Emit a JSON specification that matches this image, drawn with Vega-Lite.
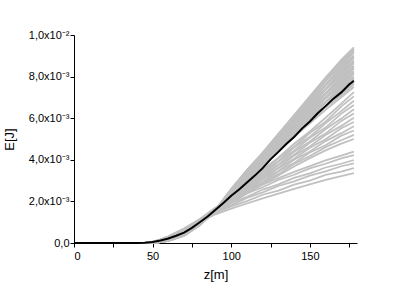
{
"$schema": "https://vega.github.io/schema/vega-lite/v6.json",
"width": 283, "height": 208,
"autosize": {"type": "none"},
"padding": {"left": 74, "top": 35, "right": 58, "bottom": 49},
"background": "white",
"config": {"view": {"stroke": null}, "font": "Liberation Sans"},
"datasets": {
"gray": [
{"s":1,"z":0,"e":0},{"s":1,"z":45,"e":0},{"s":1,"z":50,"e":0.02e-3},{"s":1,"z":55,"e":0.06e-3},{"s":1,"z":60,"e":0.14e-3},{"s":1,"z":70,"e":0.42e-3},{"s":1,"z":80,"e":0.92e-3},{"s":1,"z":90,"e":1.55e-3},{"s":1,"z":100,"e":2.30e-3},{"s":1,"z":110,"e":3.00e-3},{"s":1,"z":120,"e":3.70e-3},{"s":1,"z":130,"e":4.40e-3},{"s":1,"z":140,"e":5.10e-3},{"s":1,"z":150,"e":5.75e-3},{"s":1,"z":160,"e":6.40e-3},{"s":1,"z":170,"e":7.00e-3},{"s":1,"z":178,"e":7.50e-3},
{"s":2,"z":0,"e":0},{"s":2,"z":45,"e":0},{"s":2,"z":50,"e":0.02e-3},{"s":2,"z":55,"e":0.06e-3},{"s":2,"z":60,"e":0.14e-3},{"s":2,"z":70,"e":0.42e-3},{"s":2,"z":80,"e":0.92e-3},{"s":2,"z":90,"e":1.55e-3},{"s":2,"z":100,"e":2.35e-3},{"s":2,"z":110,"e":3.01e-3},{"s":2,"z":120,"e":3.76e-3},{"s":2,"z":130,"e":4.44e-3},{"s":2,"z":140,"e":5.20e-3},{"s":2,"z":150,"e":5.82e-3},{"s":2,"z":160,"e":6.53e-3},{"s":2,"z":170,"e":7.10e-3},{"s":2,"z":178,"e":7.63e-3},
{"s":3,"z":0,"e":0},{"s":3,"z":45,"e":0},{"s":3,"z":50,"e":0.02e-3},{"s":3,"z":55,"e":0.06e-3},{"s":3,"z":60,"e":0.13e-3},{"s":3,"z":70,"e":0.41e-3},{"s":3,"z":80,"e":0.91e-3},{"s":3,"z":90,"e":1.56e-3},{"s":3,"z":100,"e":2.31e-3},{"s":3,"z":110,"e":3.09e-3},{"s":3,"z":120,"e":3.77e-3},{"s":3,"z":130,"e":4.53e-3},{"s":3,"z":140,"e":5.22e-3},{"s":3,"z":150,"e":5.95e-3},{"s":3,"z":160,"e":6.58e-3},{"s":3,"z":170,"e":7.27e-3},{"s":3,"z":178,"e":7.75e-3},
{"s":4,"z":0,"e":0},{"s":4,"z":45,"e":0},{"s":4,"z":50,"e":0.02e-3},{"s":4,"z":55,"e":0.05e-3},{"s":4,"z":60,"e":0.13e-3},{"s":4,"z":70,"e":0.41e-3},{"s":4,"z":80,"e":0.91e-3},{"s":4,"z":90,"e":1.56e-3},{"s":4,"z":100,"e":2.39e-3},{"s":4,"z":110,"e":3.08e-3},{"s":4,"z":120,"e":3.86e-3},{"s":4,"z":130,"e":4.55e-3},{"s":4,"z":140,"e":5.34e-3},{"s":4,"z":150,"e":5.99e-3},{"s":4,"z":160,"e":6.74e-3},{"s":4,"z":170,"e":7.34e-3},{"s":4,"z":178,"e":7.88e-3},
{"s":5,"z":0,"e":0},{"s":5,"z":45,"e":0},{"s":5,"z":50,"e":0.02e-3},{"s":5,"z":55,"e":0.05e-3},{"s":5,"z":60,"e":0.13e-3},{"s":5,"z":70,"e":0.40e-3},{"s":5,"z":80,"e":0.90e-3},{"s":5,"z":90,"e":1.56e-3},{"s":5,"z":100,"e":2.36e-3},{"s":5,"z":110,"e":3.16e-3},{"s":5,"z":120,"e":3.85e-3},{"s":5,"z":130,"e":4.66e-3},{"s":5,"z":140,"e":5.36e-3},{"s":5,"z":150,"e":6.13e-3},{"s":5,"z":160,"e":6.79e-3},{"s":5,"z":170,"e":7.51e-3},{"s":5,"z":178,"e":8.01e-3},
{"s":6,"z":0,"e":0},{"s":6,"z":45,"e":0},{"s":6,"z":50,"e":0.02e-3},{"s":6,"z":55,"e":0.05e-3},{"s":6,"z":60,"e":0.13e-3},{"s":6,"z":70,"e":0.40e-3},{"s":6,"z":80,"e":0.90e-3},{"s":6,"z":90,"e":1.57e-3},{"s":6,"z":100,"e":2.42e-3},{"s":6,"z":110,"e":3.15e-3},{"s":6,"z":120,"e":3.95e-3},{"s":6,"z":130,"e":4.66e-3},{"s":6,"z":140,"e":5.48e-3},{"s":6,"z":150,"e":6.16e-3},{"s":6,"z":160,"e":6.95e-3},{"s":6,"z":170,"e":7.58e-3},{"s":6,"z":178,"e":8.13e-3},
{"s":7,"z":0,"e":0},{"s":7,"z":45,"e":0},{"s":7,"z":50,"e":0.02e-3},{"s":7,"z":55,"e":0.05e-3},{"s":7,"z":60,"e":0.12e-3},{"s":7,"z":70,"e":0.39e-3},{"s":7,"z":80,"e":0.89e-3},{"s":7,"z":90,"e":1.57e-3},{"s":7,"z":100,"e":2.40e-3},{"s":7,"z":110,"e":3.23e-3},{"s":7,"z":120,"e":3.94e-3},{"s":7,"z":130,"e":4.77e-3},{"s":7,"z":140,"e":5.50e-3},{"s":7,"z":150,"e":6.30e-3},{"s":7,"z":160,"e":7.00e-3},{"s":7,"z":170,"e":7.75e-3},{"s":7,"z":178,"e":8.26e-3},
{"s":8,"z":0,"e":0},{"s":8,"z":45,"e":0},{"s":8,"z":50,"e":0.01e-3},{"s":8,"z":55,"e":0.05e-3},{"s":8,"z":60,"e":0.12e-3},{"s":8,"z":70,"e":0.39e-3},{"s":8,"z":80,"e":0.89e-3},{"s":8,"z":90,"e":1.57e-3},{"s":8,"z":100,"e":2.46e-3},{"s":8,"z":110,"e":3.21e-3},{"s":8,"z":120,"e":4.03e-3},{"s":8,"z":130,"e":4.78e-3},{"s":8,"z":140,"e":5.62e-3},{"s":8,"z":150,"e":6.34e-3},{"s":8,"z":160,"e":7.15e-3},{"s":8,"z":170,"e":7.82e-3},{"s":8,"z":178,"e":8.39e-3},
{"s":9,"z":0,"e":0},{"s":9,"z":45,"e":0},{"s":9,"z":50,"e":0.01e-3},{"s":9,"z":55,"e":0.05e-3},{"s":9,"z":60,"e":0.12e-3},{"s":9,"z":70,"e":0.38e-3},{"s":9,"z":80,"e":0.88e-3},{"s":9,"z":90,"e":1.58e-3},{"s":9,"z":100,"e":2.44e-3},{"s":9,"z":110,"e":3.30e-3},{"s":9,"z":120,"e":4.03e-3},{"s":9,"z":130,"e":4.88e-3},{"s":9,"z":140,"e":5.64e-3},{"s":9,"z":150,"e":6.47e-3},{"s":9,"z":160,"e":7.21e-3},{"s":9,"z":170,"e":7.99e-3},{"s":9,"z":178,"e":8.51e-3},
{"s":10,"z":0,"e":0},{"s":10,"z":45,"e":0},{"s":10,"z":50,"e":0.01e-3},{"s":10,"z":55,"e":0.05e-3},{"s":10,"z":60,"e":0.12e-3},{"s":10,"z":70,"e":0.38e-3},{"s":10,"z":80,"e":0.88e-3},{"s":10,"z":90,"e":1.58e-3},{"s":10,"z":100,"e":2.50e-3},{"s":10,"z":110,"e":3.28e-3},{"s":10,"z":120,"e":4.12e-3},{"s":10,"z":130,"e":4.89e-3},{"s":10,"z":140,"e":5.76e-3},{"s":10,"z":150,"e":6.51e-3},{"s":10,"z":160,"e":7.36e-3},{"s":10,"z":170,"e":8.06e-3},{"s":10,"z":178,"e":8.64e-3},
{"s":11,"z":0,"e":0},{"s":11,"z":45,"e":0},{"s":11,"z":50,"e":0.01e-3},{"s":11,"z":55,"e":0.05e-3},{"s":11,"z":60,"e":0.11e-3},{"s":11,"z":70,"e":0.37e-3},{"s":11,"z":80,"e":0.87e-3},{"s":11,"z":90,"e":1.58e-3},{"s":11,"z":100,"e":2.48e-3},{"s":11,"z":110,"e":3.36e-3},{"s":11,"z":120,"e":4.11e-3},{"s":11,"z":130,"e":5.00e-3},{"s":11,"z":140,"e":5.78e-3},{"s":11,"z":150,"e":6.65e-3},{"s":11,"z":160,"e":7.41e-3},{"s":11,"z":170,"e":8.23e-3},{"s":11,"z":178,"e":8.77e-3},
{"s":12,"z":0,"e":0},{"s":12,"z":45,"e":0},{"s":12,"z":50,"e":0.01e-3},{"s":12,"z":55,"e":0.04e-3},{"s":12,"z":60,"e":0.11e-3},{"s":12,"z":70,"e":0.37e-3},{"s":12,"z":80,"e":0.87e-3},{"s":12,"z":90,"e":1.58e-3},{"s":12,"z":100,"e":2.54e-3},{"s":12,"z":110,"e":3.35e-3},{"s":12,"z":120,"e":4.21e-3},{"s":12,"z":130,"e":5.00e-3},{"s":12,"z":140,"e":5.90e-3},{"s":12,"z":150,"e":6.68e-3},{"s":12,"z":160,"e":7.57e-3},{"s":12,"z":170,"e":8.30e-3},{"s":12,"z":178,"e":8.89e-3},
{"s":13,"z":0,"e":0},{"s":13,"z":45,"e":0},{"s":13,"z":50,"e":0.01e-3},{"s":13,"z":55,"e":0.04e-3},{"s":13,"z":60,"e":0.11e-3},{"s":13,"z":70,"e":0.36e-3},{"s":13,"z":80,"e":0.86e-3},{"s":13,"z":90,"e":1.59e-3},{"s":13,"z":100,"e":2.52e-3},{"s":13,"z":110,"e":3.43e-3},{"s":13,"z":120,"e":4.20e-3},{"s":13,"z":130,"e":5.11e-3},{"s":13,"z":140,"e":5.92e-3},{"s":13,"z":150,"e":6.82e-3},{"s":13,"z":160,"e":7.62e-3},{"s":13,"z":170,"e":8.47e-3},{"s":13,"z":178,"e":9.02e-3},
{"s":14,"z":0,"e":0},{"s":14,"z":45,"e":0},{"s":14,"z":50,"e":0.01e-3},{"s":14,"z":55,"e":0.04e-3},{"s":14,"z":60,"e":0.11e-3},{"s":14,"z":70,"e":0.36e-3},{"s":14,"z":80,"e":0.86e-3},{"s":14,"z":90,"e":1.59e-3},{"s":14,"z":100,"e":2.58e-3},{"s":14,"z":110,"e":3.41e-3},{"s":14,"z":120,"e":4.29e-3},{"s":14,"z":130,"e":5.12e-3},{"s":14,"z":140,"e":6.04e-3},{"s":14,"z":150,"e":6.86e-3},{"s":14,"z":160,"e":7.77e-3},{"s":14,"z":170,"e":8.54e-3},{"s":14,"z":178,"e":9.15e-3},
{"s":15,"z":0,"e":0},{"s":15,"z":45,"e":0},{"s":15,"z":50,"e":0.01e-3},{"s":15,"z":55,"e":0.04e-3},{"s":15,"z":60,"e":0.10e-3},{"s":15,"z":70,"e":0.35e-3},{"s":15,"z":80,"e":0.85e-3},{"s":15,"z":90,"e":1.60e-3},{"s":15,"z":100,"e":2.56e-3},{"s":15,"z":110,"e":3.50e-3},{"s":15,"z":120,"e":4.29e-3},{"s":15,"z":130,"e":5.22e-3},{"s":15,"z":140,"e":6.06e-3},{"s":15,"z":150,"e":6.99e-3},{"s":15,"z":160,"e":7.83e-3},{"s":15,"z":170,"e":8.71e-3},{"s":15,"z":178,"e":9.27e-3},
{"s":16,"z":0,"e":0},{"s":16,"z":45,"e":0},{"s":16,"z":50,"e":0.01e-3},{"s":16,"z":55,"e":0.04e-3},{"s":16,"z":60,"e":0.10e-3},{"s":16,"z":70,"e":0.35e-3},{"s":16,"z":80,"e":0.85e-3},{"s":16,"z":90,"e":1.60e-3},{"s":16,"z":100,"e":2.60e-3},{"s":16,"z":110,"e":3.50e-3},{"s":16,"z":120,"e":4.35e-3},{"s":16,"z":130,"e":5.25e-3},{"s":16,"z":140,"e":6.15e-3},{"s":16,"z":150,"e":7.05e-3},{"s":16,"z":160,"e":7.95e-3},{"s":16,"z":170,"e":8.80e-3},{"s":16,"z":178,"e":9.40e-3},
{"s":17,"z":0,"e":0},{"s":17,"z":45,"e":0},{"s":17,"z":50,"e":0.04e-3},{"s":17,"z":55,"e":0.12e-3},{"s":17,"z":60,"e":0.24e-3},{"s":17,"z":70,"e":0.58e-3},{"s":17,"z":80,"e":1.00e-3},{"s":17,"z":90,"e":1.45e-3},{"s":17,"z":100,"e":1.92e-3},{"s":17,"z":110,"e":2.38e-3},{"s":17,"z":120,"e":2.82e-3},{"s":17,"z":130,"e":3.25e-3},{"s":17,"z":140,"e":3.68e-3},{"s":17,"z":150,"e":4.08e-3},{"s":17,"z":160,"e":4.45e-3},{"s":17,"z":170,"e":4.78e-3},{"s":17,"z":178,"e":5.00e-3},
{"s":18,"z":0,"e":0},{"s":18,"z":45,"e":0},{"s":18,"z":50,"e":0.04e-3},{"s":18,"z":55,"e":0.12e-3},{"s":18,"z":60,"e":0.23e-3},{"s":18,"z":70,"e":0.57e-3},{"s":18,"z":80,"e":0.99e-3},{"s":18,"z":90,"e":1.46e-3},{"s":18,"z":100,"e":1.97e-3},{"s":18,"z":110,"e":2.40e-3},{"s":18,"z":120,"e":2.90e-3},{"s":18,"z":130,"e":3.31e-3},{"s":18,"z":140,"e":3.80e-3},{"s":18,"z":150,"e":4.18e-3},{"s":18,"z":160,"e":4.61e-3},{"s":18,"z":170,"e":4.94e-3},{"s":18,"z":178,"e":5.20e-3},
{"s":19,"z":0,"e":0},{"s":19,"z":45,"e":0},{"s":19,"z":50,"e":0.04e-3},{"s":19,"z":55,"e":0.11e-3},{"s":19,"z":60,"e":0.23e-3},{"s":19,"z":70,"e":0.56e-3},{"s":19,"z":80,"e":0.99e-3},{"s":19,"z":90,"e":1.46e-3},{"s":19,"z":100,"e":1.95e-3},{"s":19,"z":110,"e":2.49e-3},{"s":19,"z":120,"e":2.92e-3},{"s":19,"z":130,"e":3.44e-3},{"s":19,"z":140,"e":3.85e-3},{"s":19,"z":150,"e":4.35e-3},{"s":19,"z":160,"e":4.70e-3},{"s":19,"z":170,"e":5.16e-3},{"s":19,"z":178,"e":5.41e-3},
{"s":20,"z":0,"e":0},{"s":20,"z":45,"e":0},{"s":20,"z":50,"e":0.04e-3},{"s":20,"z":55,"e":0.11e-3},{"s":20,"z":60,"e":0.22e-3},{"s":20,"z":70,"e":0.55e-3},{"s":20,"z":80,"e":0.98e-3},{"s":20,"z":90,"e":1.47e-3},{"s":20,"z":100,"e":2.02e-3},{"s":20,"z":110,"e":2.48e-3},{"s":20,"z":120,"e":3.04e-3},{"s":20,"z":130,"e":3.46e-3},{"s":20,"z":140,"e":4.00e-3},{"s":20,"z":150,"e":4.40e-3},{"s":20,"z":160,"e":4.90e-3},{"s":20,"z":170,"e":5.28e-3},{"s":20,"z":178,"e":5.61e-3},
{"s":21,"z":0,"e":0},{"s":21,"z":45,"e":0},{"s":21,"z":50,"e":0.04e-3},{"s":21,"z":55,"e":0.11e-3},{"s":21,"z":60,"e":0.22e-3},{"s":21,"z":70,"e":0.54e-3},{"s":21,"z":80,"e":0.98e-3},{"s":21,"z":90,"e":1.48e-3},{"s":21,"z":100,"e":2.00e-3},{"s":21,"z":110,"e":2.58e-3},{"s":21,"z":120,"e":3.05e-3},{"s":21,"z":130,"e":3.60e-3},{"s":21,"z":140,"e":4.05e-3},{"s":21,"z":150,"e":4.58e-3},{"s":21,"z":160,"e":4.99e-3},{"s":21,"z":170,"e":5.52e-3},{"s":21,"z":178,"e":5.82e-3},
{"s":22,"z":0,"e":0},{"s":22,"z":45,"e":0},{"s":22,"z":50,"e":0.03e-3},{"s":22,"z":55,"e":0.10e-3},{"s":22,"z":60,"e":0.21e-3},{"s":22,"z":70,"e":0.53e-3},{"s":22,"z":80,"e":0.97e-3},{"s":22,"z":90,"e":1.48e-3},{"s":22,"z":100,"e":2.08e-3},{"s":22,"z":110,"e":2.57e-3},{"s":22,"z":120,"e":3.16e-3},{"s":22,"z":130,"e":3.62e-3},{"s":22,"z":140,"e":4.20e-3},{"s":22,"z":150,"e":4.64e-3},{"s":22,"z":160,"e":5.19e-3},{"s":22,"z":170,"e":5.63e-3},{"s":22,"z":178,"e":6.02e-3},
{"s":23,"z":0,"e":0},{"s":23,"z":45,"e":0},{"s":23,"z":50,"e":0.03e-3},{"s":23,"z":55,"e":0.10e-3},{"s":23,"z":60,"e":0.20e-3},{"s":23,"z":70,"e":0.52e-3},{"s":23,"z":80,"e":0.97e-3},{"s":23,"z":90,"e":1.49e-3},{"s":23,"z":100,"e":2.05e-3},{"s":23,"z":110,"e":2.67e-3},{"s":23,"z":120,"e":3.17e-3},{"s":23,"z":130,"e":3.75e-3},{"s":23,"z":140,"e":4.24e-3},{"s":23,"z":150,"e":4.82e-3},{"s":23,"z":160,"e":5.26e-3},{"s":23,"z":170,"e":5.87e-3},{"s":23,"z":178,"e":6.23e-3},
{"s":24,"z":0,"e":0},{"s":24,"z":45,"e":0},{"s":24,"z":50,"e":0.03e-3},{"s":24,"z":55,"e":0.10e-3},{"s":24,"z":60,"e":0.20e-3},{"s":24,"z":70,"e":0.51e-3},{"s":24,"z":80,"e":0.96e-3},{"s":24,"z":90,"e":1.49e-3},{"s":24,"z":100,"e":2.13e-3},{"s":24,"z":110,"e":2.65e-3},{"s":24,"z":120,"e":3.28e-3},{"s":24,"z":130,"e":3.77e-3},{"s":24,"z":140,"e":4.39e-3},{"s":24,"z":150,"e":4.88e-3},{"s":24,"z":160,"e":5.47e-3},{"s":24,"z":170,"e":5.98e-3},{"s":24,"z":178,"e":6.43e-3},
{"s":25,"z":0,"e":0},{"s":25,"z":45,"e":0},{"s":25,"z":50,"e":0.03e-3},{"s":25,"z":55,"e":0.09e-3},{"s":25,"z":60,"e":0.19e-3},{"s":25,"z":70,"e":0.50e-3},{"s":25,"z":80,"e":0.96e-3},{"s":25,"z":90,"e":1.50e-3},{"s":25,"z":100,"e":2.10e-3},{"s":25,"z":110,"e":2.75e-3},{"s":25,"z":120,"e":3.29e-3},{"s":25,"z":130,"e":3.91e-3},{"s":25,"z":140,"e":4.44e-3},{"s":25,"z":150,"e":5.06e-3},{"s":25,"z":160,"e":5.55e-3},{"s":25,"z":170,"e":6.22e-3},{"s":25,"z":178,"e":6.64e-3},
{"s":26,"z":0,"e":0},{"s":26,"z":45,"e":0},{"s":26,"z":50,"e":0.03e-3},{"s":26,"z":55,"e":0.09e-3},{"s":26,"z":60,"e":0.18e-3},{"s":26,"z":70,"e":0.49e-3},{"s":26,"z":80,"e":0.95e-3},{"s":26,"z":90,"e":1.51e-3},{"s":26,"z":100,"e":2.18e-3},{"s":26,"z":110,"e":2.73e-3},{"s":26,"z":120,"e":3.41e-3},{"s":26,"z":130,"e":3.93e-3},{"s":26,"z":140,"e":4.59e-3},{"s":26,"z":150,"e":5.11e-3},{"s":26,"z":160,"e":5.75e-3},{"s":26,"z":170,"e":6.34e-3},{"s":26,"z":178,"e":6.84e-3},
{"s":27,"z":0,"e":0},{"s":27,"z":45,"e":0},{"s":27,"z":50,"e":0.03e-3},{"s":27,"z":55,"e":0.08e-3},{"s":27,"z":60,"e":0.18e-3},{"s":27,"z":70,"e":0.48e-3},{"s":27,"z":80,"e":0.95e-3},{"s":27,"z":90,"e":1.51e-3},{"s":27,"z":100,"e":2.15e-3},{"s":27,"z":110,"e":2.84e-3},{"s":27,"z":120,"e":3.42e-3},{"s":27,"z":130,"e":4.07e-3},{"s":27,"z":140,"e":4.63e-3},{"s":27,"z":150,"e":5.29e-3},{"s":27,"z":160,"e":5.83e-3},{"s":27,"z":170,"e":6.57e-3},{"s":27,"z":178,"e":7.05e-3},
{"s":28,"z":0,"e":0},{"s":28,"z":45,"e":0},{"s":28,"z":50,"e":0.03e-3},{"s":28,"z":55,"e":0.08e-3},{"s":28,"z":60,"e":0.17e-3},{"s":28,"z":70,"e":0.47e-3},{"s":28,"z":80,"e":0.94e-3},{"s":28,"z":90,"e":1.52e-3},{"s":28,"z":100,"e":2.22e-3},{"s":28,"z":110,"e":2.83e-3},{"s":28,"z":120,"e":3.52e-3},{"s":28,"z":130,"e":4.10e-3},{"s":28,"z":140,"e":4.77e-3},{"s":28,"z":150,"e":5.36e-3},{"s":28,"z":160,"e":6.02e-3},{"s":28,"z":170,"e":6.70e-3},{"s":28,"z":178,"e":7.25e-3},
{"s":29,"z":0,"e":0},{"s":29,"z":45,"e":0},{"s":29,"z":50,"e":0.05e-3},{"s":29,"z":55,"e":0.15e-3},{"s":29,"z":60,"e":0.28e-3},{"s":29,"z":70,"e":0.62e-3},{"s":29,"z":80,"e":1.00e-3},{"s":29,"z":90,"e":1.38e-3},{"s":29,"z":100,"e":1.65e-3},{"s":29,"z":110,"e":1.90e-3},{"s":29,"z":120,"e":2.15e-3},{"s":29,"z":130,"e":2.37e-3},{"s":29,"z":140,"e":2.60e-3},{"s":29,"z":150,"e":2.82e-3},{"s":29,"z":160,"e":3.03e-3},{"s":29,"z":170,"e":3.22e-3},{"s":29,"z":178,"e":3.36e-3},
{"s":30,"z":0,"e":0},{"s":30,"z":45,"e":0},{"s":30,"z":50,"e":0.05e-3},{"s":30,"z":55,"e":0.15e-3},{"s":30,"z":60,"e":0.29e-3},{"s":30,"z":70,"e":0.64e-3},{"s":30,"z":80,"e":1.03e-3},{"s":30,"z":90,"e":1.45e-3},{"s":30,"z":100,"e":1.76e-3},{"s":30,"z":110,"e":2.01e-3},{"s":30,"z":120,"e":2.32e-3},{"s":30,"z":130,"e":2.52e-3},{"s":30,"z":140,"e":2.81e-3},{"s":30,"z":150,"e":3.00e-3},{"s":30,"z":160,"e":3.27e-3},{"s":30,"z":170,"e":3.43e-3},{"s":30,"z":178,"e":3.60e-3},
{"s":31,"z":0,"e":0},{"s":31,"z":45,"e":0},{"s":31,"z":50,"e":0.05e-3},{"s":31,"z":55,"e":0.16e-3},{"s":31,"z":60,"e":0.30e-3},{"s":31,"z":70,"e":0.66e-3},{"s":31,"z":80,"e":1.07e-3},{"s":31,"z":90,"e":1.53e-3},{"s":31,"z":100,"e":1.81e-3},{"s":31,"z":110,"e":2.17e-3},{"s":31,"z":120,"e":2.43e-3},{"s":31,"z":130,"e":2.74e-3},{"s":31,"z":140,"e":2.96e-3},{"s":31,"z":150,"e":3.24e-3},{"s":31,"z":160,"e":3.44e-3},{"s":31,"z":170,"e":3.69e-3},{"s":31,"z":178,"e":3.83e-3},
{"s":32,"z":0,"e":0},{"s":32,"z":45,"e":0},{"s":32,"z":50,"e":0.06e-3},{"s":32,"z":55,"e":0.16e-3},{"s":32,"z":60,"e":0.30e-3},{"s":32,"z":70,"e":0.67e-3},{"s":32,"z":80,"e":1.09e-3},{"s":32,"z":90,"e":1.58e-3},{"s":32,"z":100,"e":1.92e-3},{"s":32,"z":110,"e":2.22e-3},{"s":32,"z":120,"e":2.57e-3},{"s":32,"z":130,"e":2.82e-3},{"s":32,"z":140,"e":3.13e-3},{"s":32,"z":150,"e":3.35e-3},{"s":32,"z":160,"e":3.63e-3},{"s":32,"z":170,"e":3.81e-3},{"s":32,"z":178,"e":3.99e-3},
{"s":33,"z":0,"e":0},{"s":33,"z":45,"e":0},{"s":33,"z":50,"e":0.06e-3},{"s":33,"z":55,"e":0.17e-3},{"s":33,"z":60,"e":0.31e-3},{"s":33,"z":70,"e":0.69e-3},{"s":33,"z":80,"e":1.13e-3},{"s":33,"z":90,"e":1.65e-3},{"s":33,"z":100,"e":1.97e-3},{"s":33,"z":110,"e":2.39e-3},{"s":33,"z":120,"e":2.68e-3},{"s":33,"z":130,"e":3.03e-3},{"s":33,"z":140,"e":3.28e-3},{"s":33,"z":150,"e":3.59e-3},{"s":33,"z":160,"e":3.81e-3},{"s":33,"z":170,"e":4.07e-3},{"s":33,"z":178,"e":4.23e-3},
{"s":34,"z":0,"e":0},{"s":34,"z":45,"e":0},{"s":34,"z":50,"e":0.06e-3},{"s":34,"z":55,"e":0.17e-3},{"s":34,"z":60,"e":0.32e-3},{"s":34,"z":70,"e":0.70e-3},{"s":34,"z":80,"e":1.15e-3},{"s":34,"z":90,"e":1.70e-3},{"s":34,"z":100,"e":2.05e-3},{"s":34,"z":110,"e":2.45e-3},{"s":34,"z":120,"e":2.80e-3},{"s":34,"z":130,"e":3.12e-3},{"s":34,"z":140,"e":3.42e-3},{"s":34,"z":150,"e":3.70e-3},{"s":34,"z":160,"e":3.97e-3},{"s":34,"z":170,"e":4.20e-3},{"s":34,"z":178,"e":4.39e-3},
{"s":35,"z":0,"e":0},{"s":35,"z":45,"e":0},{"s":35,"z":50,"e":0.02e-3},{"s":35,"z":55,"e":0.06e-3},{"s":35,"z":60,"e":0.14e-3},{"s":35,"z":70,"e":0.42e-3},{"s":35,"z":80,"e":0.92e-3},{"s":35,"z":90,"e":1.55e-3},{"s":35,"z":100,"e":2.33e-3},{"s":35,"z":110,"e":3.05e-3},{"s":35,"z":120,"e":3.77e-3},{"s":35,"z":130,"e":4.49e-3},{"s":35,"z":140,"e":5.21e-3},{"s":35,"z":150,"e":5.89e-3},{"s":35,"z":160,"e":6.56e-3},{"s":35,"z":170,"e":7.19e-3},{"s":35,"z":178,"e":7.69e-3},
{"s":36,"z":0,"e":0},{"s":36,"z":45,"e":0},{"s":36,"z":50,"e":0.02e-3},{"s":36,"z":55,"e":0.05e-3},{"s":36,"z":60,"e":0.13e-3},{"s":36,"z":70,"e":0.41e-3},{"s":36,"z":80,"e":0.91e-3},{"s":36,"z":90,"e":1.56e-3},{"s":36,"z":100,"e":2.38e-3},{"s":36,"z":110,"e":3.12e-3},{"s":36,"z":120,"e":3.86e-3},{"s":36,"z":130,"e":4.61e-3},{"s":36,"z":140,"e":5.35e-3},{"s":36,"z":150,"e":6.06e-3},{"s":36,"z":160,"e":6.77e-3},{"s":36,"z":170,"e":7.43e-3},{"s":36,"z":178,"e":7.95e-3},
{"s":37,"z":0,"e":0},{"s":37,"z":45,"e":0},{"s":37,"z":50,"e":0.02e-3},{"s":37,"z":55,"e":0.05e-3},{"s":37,"z":60,"e":0.12e-3},{"s":37,"z":70,"e":0.40e-3},{"s":37,"z":80,"e":0.90e-3},{"s":37,"z":90,"e":1.57e-3},{"s":37,"z":100,"e":2.41e-3},{"s":37,"z":110,"e":3.19e-3},{"s":37,"z":120,"e":3.95e-3},{"s":37,"z":130,"e":4.72e-3},{"s":37,"z":140,"e":5.49e-3},{"s":37,"z":150,"e":6.23e-3},{"s":37,"z":160,"e":6.98e-3},{"s":37,"z":170,"e":7.67e-3},{"s":37,"z":178,"e":8.20e-3},
{"s":38,"z":0,"e":0},{"s":38,"z":45,"e":0},{"s":38,"z":50,"e":0.01e-3},{"s":38,"z":55,"e":0.05e-3},{"s":38,"z":60,"e":0.12e-3},{"s":38,"z":70,"e":0.38e-3},{"s":38,"z":80,"e":0.88e-3},{"s":38,"z":90,"e":1.58e-3},{"s":38,"z":100,"e":2.45e-3},{"s":38,"z":110,"e":3.26e-3},{"s":38,"z":120,"e":4.03e-3},{"s":38,"z":130,"e":4.83e-3},{"s":38,"z":140,"e":5.63e-3},{"s":38,"z":150,"e":6.41e-3},{"s":38,"z":160,"e":7.18e-3},{"s":38,"z":170,"e":7.91e-3},{"s":38,"z":178,"e":8.45e-3},
{"s":39,"z":0,"e":0},{"s":39,"z":45,"e":0},{"s":39,"z":50,"e":0.01e-3},{"s":39,"z":55,"e":0.05e-3},{"s":39,"z":60,"e":0.12e-3},{"s":39,"z":70,"e":0.38e-3},{"s":39,"z":80,"e":0.88e-3},{"s":39,"z":90,"e":1.58e-3},{"s":39,"z":100,"e":2.49e-3},{"s":39,"z":110,"e":3.32e-3},{"s":39,"z":120,"e":4.12e-3},{"s":39,"z":130,"e":4.95e-3},{"s":39,"z":140,"e":5.77e-3},{"s":39,"z":150,"e":6.58e-3},{"s":39,"z":160,"e":7.39e-3},{"s":39,"z":170,"e":8.15e-3},{"s":39,"z":178,"e":8.70e-3},
{"s":40,"z":0,"e":0},{"s":40,"z":45,"e":0},{"s":40,"z":50,"e":0.01e-3},{"s":40,"z":55,"e":0.04e-3},{"s":40,"z":60,"e":0.11e-3},{"s":40,"z":70,"e":0.36e-3},{"s":40,"z":80,"e":0.86e-3},{"s":40,"z":90,"e":1.59e-3},{"s":40,"z":100,"e":2.53e-3},{"s":40,"z":110,"e":3.39e-3},{"s":40,"z":120,"e":4.21e-3},{"s":40,"z":130,"e":5.06e-3},{"s":40,"z":140,"e":5.91e-3},{"s":40,"z":150,"e":6.75e-3},{"s":40,"z":160,"e":7.60e-3},{"s":40,"z":170,"e":8.39e-3},{"s":40,"z":178,"e":8.95e-3},
{"s":41,"z":0,"e":0},{"s":41,"z":45,"e":0},{"s":41,"z":50,"e":0.01e-3},{"s":41,"z":55,"e":0.04e-3},{"s":41,"z":60,"e":0.10e-3},{"s":41,"z":70,"e":0.35e-3},{"s":41,"z":80,"e":0.85e-3},{"s":41,"z":90,"e":1.60e-3},{"s":41,"z":100,"e":2.57e-3},{"s":41,"z":110,"e":3.46e-3},{"s":41,"z":120,"e":4.29e-3},{"s":41,"z":130,"e":5.17e-3},{"s":41,"z":140,"e":6.05e-3},{"s":41,"z":150,"e":6.93e-3},{"s":41,"z":160,"e":7.80e-3},{"s":41,"z":170,"e":8.63e-3},{"s":41,"z":178,"e":9.21e-3},
{"s":42,"z":0,"e":0},{"s":42,"z":45,"e":0},{"s":42,"z":50,"e":0.01e-3},{"s":42,"z":55,"e":0.04e-3},{"s":42,"z":60,"e":0.10e-3},{"s":42,"z":70,"e":0.35e-3},{"s":42,"z":80,"e":0.85e-3},{"s":42,"z":90,"e":1.60e-3},{"s":42,"z":100,"e":2.58e-3},{"s":42,"z":110,"e":3.50e-3},{"s":42,"z":120,"e":4.32e-3},{"s":42,"z":130,"e":5.24e-3},{"s":42,"z":140,"e":6.11e-3},{"s":42,"z":150,"e":7.02e-3},{"s":42,"z":160,"e":7.89e-3},{"s":42,"z":170,"e":8.76e-3},{"s":42,"z":178,"e":9.33e-3}
],
"mean": [
{"z":0,"e":0},{"z":40,"e":0},{"z":45,"e":0.01e-3},{"z":50,"e":0.05e-3},{"z":55,"e":0.12e-3},{"z":60,"e":0.22e-3},{"z":65,"e":0.35e-3},{"z":70,"e":0.50e-3},{"z":75,"e":0.73e-3},{"z":80,"e":1.00e-3},{"z":85,"e":1.27e-3},{"z":90,"e":1.60e-3},{"z":95,"e":1.92e-3},{"z":100,"e":2.27e-3},{"z":105,"e":2.57e-3},{"z":110,"e":2.91e-3},{"z":115,"e":3.24e-3},{"z":120,"e":3.60e-3},{"z":125,"e":4.02e-3},{"z":130,"e":4.38e-3},{"z":135,"e":4.76e-3},{"z":140,"e":5.10e-3},{"z":145,"e":5.50e-3},{"z":150,"e":5.84e-3},{"z":155,"e":6.24e-3},{"z":160,"e":6.58e-3},{"z":165,"e":6.94e-3},{"z":170,"e":7.24e-3},{"z":175,"e":7.62e-3},{"z":178,"e":7.80e-3}
]
},
"layer": [
{
"data": {"name": "gray"},
"mark": {"type": "line", "color": "#c0c0c0", "strokeWidth": 1.8},
"encoding": {
"x": {"field": "z", "type": "quantitative",
"scale": {"domain": [0, 180], "nice": false, "zero": false},
"axis": {"title": "z[m]", "values": [0,25,50,75,100,125,150,175],
"labelExpr": "datum.value % 50 == 0 ? datum.label : ''",
"grid": false, "domainColor": "black", "tickColor": "black", "tickSize": 4,
"labelFontSize": 11, "labelColor": "black", "labelPadding": 3,
"titleFontSize": 13, "titleFontWeight": "normal", "titleColor": "black", "titlePadding": 7}},
"y": {"field": "e", "type": "quantitative",
"scale": {"domain": [0, 0.01], "nice": false},
"axis": {"title": "E[J]",
"values": [0,0.001,0.002,0.003,0.004,0.005,0.006,0.007,0.008,0.009,0.01],
"labelExpr": "datum.value < 1e-9 ? '0,0' : (round(datum.value*1e4) % 20 != 0 ? '' : (round(datum.value*1e4) == 100 ? '1,0x10\u207b\u00b2' : round(datum.value*1e3) + ',0x10\u207b\u00b3'))",
"grid": false, "domainColor": "black", "tickColor": "black",
"tickSize": {"condition": {"test": "round(datum.value*1e4) % 20 != 0", "value": 3}, "value": 4},
"labelFontSize": 11, "labelColor": "black", "labelPadding": 1,
"titleFontSize": 13, "titleFontWeight": "normal", "titleColor": "black", "titlePadding": 12}},
"detail": {"field": "s", "type": "nominal"}
}
},
{
"data": {"name": "mean"},
"mark": {"type": "line", "color": "black", "strokeWidth": 2},
"encoding": {
"x": {"field": "z", "type": "quantitative"},
"y": {"field": "e", "type": "quantitative"}
}
}
]
}
